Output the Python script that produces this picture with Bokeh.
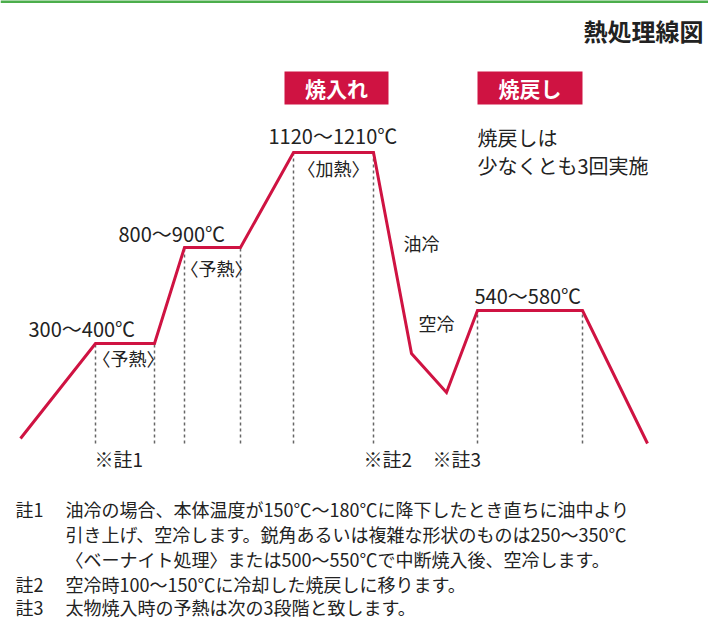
from bokeh.plotting import figure
from bokeh.models import Range1d
from bokeh.core.properties import value
from bokeh.embed import file_html
from bokeh.resources import INLINE

# ---- data (schematic coordinates: x = time axis, y = level, both in chart units) ----
profile_x = [20, 95, 154, 184, 240, 293, 373, 411, 446, 477, 582, 647]
profile_y = [198, 293, 293, 389, 389, 484, 484, 283, 244, 326, 326, 193]

guide_x = [95, 154, 184, 240, 293, 373, 477, 582]
guide_top = [293, 293, 389, 389, 484, 484, 326, 326]
guide_base = 193

temp_labels = ["300～400℃", "800～900℃", "1120～1210℃", "540～580℃"]
temp_x = [28, 118, 268, 474]
temp_y = [308, 403, 501, 341]

stage_labels = ["〈予熱〉", "〈予熱〉", "〈加熱〉", "油冷", "空冷"]
stage_x = [92, 180, 297, 403, 418]
stage_y = [279, 369, 469, 394, 314]

note_marks = ["※註1", "※註2", "※註3"]
note_mark_x = [94, 363, 432]
note_mark_y = [178, 178, 178]

box_labels = ["焼入れ", "焼戻し"]
box_left = [284, 477]
box_right = [388, 582]
box_bottom = [532, 532]
box_top = [565, 565]

temper_text = ["焼戻しは", "少なくとも3回実施"]
temper_x = [477, 477]
temper_y = [499, 471]

note_heads = ["註1", "", "", "註2", "註3"]
note_lines = [
    "油冷の場合、本体温度が150℃～180℃に降下したとき直ちに油中より",
    "引き上げ、空冷します。鋭角あるいは複雑な形状のものは250～350℃",
    "〈ベーナイト処理〉または500～550℃で中断焼入後、空冷します。",
    "空冷時100～150℃に冷却した焼戻しに移ります。",
    "太物焼入時の予熱は次の3段階と致します。",
]
note_y = [128, 103, 78, 53, 30]

title = "熱処理線図"

RED = "#cf1342"
FONT = value("Noto Sans CJK JP")

p = figure(width=708, height=620, output_backend="svg", toolbar_location=None,
           x_range=Range1d(0, 708), y_range=Range1d(16, 636), min_border=0)
p.axis.visible = False
p.grid.visible = False
p.outline_line_color = None
p.background_fill_color = "white"

# green top rule
p.segment(x0=[0], y0=[635], x1=[708], y1=[635], line_color="#4cae4c", line_width=3)

# dashed guides
p.segment(x0=guide_x, y0=[guide_base] * len(guide_x), x1=guide_x, y1=guide_top,
          line_color="#666666", line_width=1.5, line_dash="3 3")

# profile
p.line(profile_x, profile_y, line_color=RED, line_width=3, line_join="miter")

# red boxes
p.quad(left=box_left, right=box_right, bottom=box_bottom, top=box_top,
       fill_color=RED, line_color=None)
p.text(x=[(a + b) / 2 for a, b in zip(box_left, box_right)],
       y=[(a + b) / 2 for a, b in zip(box_bottom, box_top)], text=box_labels,
       text_color="white", text_font=FONT, text_font_size="21px",
       text_font_style="bold", text_align="center", text_baseline="middle")

common = dict(text_font=FONT, text_color="#222222", text_baseline="middle", text_align="left")
p.text(x=temp_x, y=temp_y, text=temp_labels, text_font_size="20px", **common)
p.text(x=stage_x, y=stage_y, text=stage_labels, text_font_size="18px", **common)
p.text(x=note_mark_x, y=note_mark_y, text=note_marks, text_font_size="19px", **common)
p.text(x=temper_x, y=temper_y, text=temper_text, text_font_size="20px", **common)
p.text(x=[583], y=[606], text=[title], text_font_size="24px", text_font_style="bold", **common)

p.text(x=[15] * len(note_heads), y=note_y, text=note_heads, text_font_size="18px", **common)
p.text(x=[65] * len(note_lines), y=note_y, text=note_lines, text_font_size="18px", **common)

open("out.html", "w").write(file_html(p, INLINE))
